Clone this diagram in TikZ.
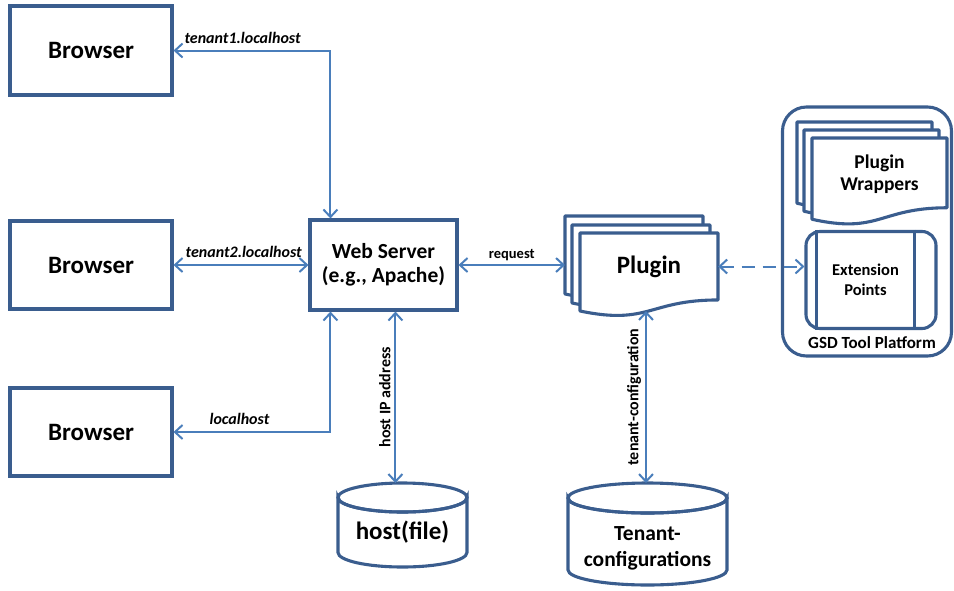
\documentclass[tikz,border=0pt]{standalone}
\usepackage{fontspec}
\setmainfont{Carlito}
\usetikzlibrary{arrows.meta}
\definecolor{boxc}{RGB}{58,93,142}
\definecolor{arrc}{RGB}{74,126,187}

% one page of a stacked document: top-left (#1,#2), width #3, height #4
\newcommand\docsheet[4]{%
  \draw[boxc, line width=3.1pt, fill=white, line join=round]
    (#1,#2) -- ({#1+#3},#2) -- ({#1+#3},{#2+0.802*#4})
    .. controls ({#1+0.5*#3},{#2+0.802*#4}) and ({#1+0.5*#3},{#2+1.107*#4})
    .. (#1,{#2+0.934*#4}) -- cycle;}

% database cylinder: centre x #1, top ellipse centre y #2, radii #3/#4, bottom ellipse centre y #5
\newcommand\dbcyl[5]{%
  \draw[boxc, line width=3.1pt, fill=white]
    ({#1-#3},#2) -- ({#1-#3},#5) arc (180:0:#3 and #4) -- ({#1+#3},#2)
    arc (0:180:#3 and #4) -- cycle;
  \draw[boxc, line width=3.1pt] (#1,#2) ellipse (#3 and #4);}

\begin{document}
\begin{tikzpicture}[x=1pt, y=-1pt,
  box/.style={draw=boxc, line width=3.1pt, fill=white, align=center, inner sep=0pt},
  big/.style={font=\fontsize{25}{28}\selectfont\bfseries},
  mid/.style={font=\fontsize{21.5}{24}\selectfont\bfseries},
  link/.style={draw=arrc, line width=2pt,
    {Straight Barb[length=7.5pt,width=14pt]}-{Straight Barb[length=7.5pt,width=14pt]}},
  dashlink/.style={link, dash pattern=on 13pt off 8pt},
  lbl/.style={font=\fontsize{16}{18}\selectfont\bfseries, text=black, inner sep=1pt},
  ilbl/.style={lbl, font=\fontsize{16}{18}\selectfont\bfseries\itshape}]
\useasboundingbox (0,0) rectangle (954,590);

% browsers and web server
\node[box, big, minimum width=162pt, minimum height=89pt] (b1) at (91,50.5) {Browser};
\node[box, big, minimum width=162pt, minimum height=88pt] (b2) at (91,265) {Browser};
\node[box, big, minimum width=162pt, minimum height=88pt] (b3) at (91,432) {Browser};
\node[box, mid, minimum width=147pt, minimum height=90pt] (web) at (383.5,265)
  {Web Server\\(e.g., Apache)};

% plugin: stack of three pages
\coordinate (pk) at (565,216);
\docsheet{565}{216}{138}{83.5}
\docsheet{572}{225}{138}{83.5}
\docsheet{580}{233}{138}{83.5}
\node[big, minimum width=138pt, minimum height=67pt, inner sep=0pt] (plugin) at (649,266.5) {Plugin};
\coordinate (tcTop) at (646,311);

% GSD tool platform
\node[draw=boxc, line width=3.1pt, rounded corners=24pt, fill=white,
  minimum width=169pt, minimum height=249pt, inner sep=0pt] (gsd) at (867,231.5) {};
\docsheet{797}{122}{135}{87}
\docsheet{804}{130}{135}{87}
\docsheet{812}{138}{135}{87}
\node[font=\fontsize{19.5}{22}\selectfont\bfseries, align=center] (wrap) at (879.5,174)
  {Plugin\\Wrappers};
\node[box, rounded corners=14pt, minimum width=130pt, minimum height=97pt] (ext) at (871,280) {};
\draw[boxc, line width=3.1pt] ([xshift=12pt]ext.north west) -- ([xshift=12pt]ext.south west);
\draw[boxc, line width=3.1pt] ([xshift=-23pt]ext.north east) -- ([xshift=-23pt]ext.south east);
\node[font=\fontsize{16.5}{20}\selectfont\bfseries, align=center] (extlbl) at (865.5,280)
  {Extension\\Points};
\node[font=\fontsize{17}{20}\selectfont\bfseries] (gsdlbl) at (872,343) {GSD Tool Platform};

% data stores
\dbcyl{402.5}{497.5}{64.5}{14.5}{552.5}
\coordinate (hosttop) at (402.5,483);
\node[big] (hostlbl) at (402.5,532) {host(file)};
\dbcyl{647.5}{498}{79.5}{15}{570}
\coordinate (tentop) at (647.5,483);
\node[font=\fontsize{21.5}{26}\selectfont\bfseries, align=center] (tenlbl) at (647.5,548)
  {Tenant-\\configurations};

% connectors
\draw[link] (b1.east) -| ([xshift=22pt]web.north west)
  node[ilbl, pos=.22, above=5pt] {tenant1.localhost};
\draw[link] (b2.east) -- (web.west)
  node[ilbl, pos=.52, above=5pt] {tenant2.localhost};
\draw[link] (b3.east) -| ([xshift=22pt]web.south west)
  node[ilbl, pos=.21, above=5pt] {localhost};
\draw[link] (web.east) -- (web.east -| pk)
  node[lbl, font=\fontsize{14.5}{16}\selectfont\bfseries, midway, above=2pt] {request};
\coordinate (ipTop) at ([xshift=87pt]web.south west);
\draw[link] (ipTop) -- (ipTop |- hosttop)
  node[lbl, midway, rotate=90, anchor=south, inner sep=4pt] {host IP address};
\draw[link] (tcTop) -- (tcTop |- tentop)
  node[lbl, midway, rotate=90, anchor=south, inner sep=4pt] {tenant-configuration};
\draw[dashlink] (plugin.east) -- (plugin.east -| ext.west);
\end{tikzpicture}
\end{document}
